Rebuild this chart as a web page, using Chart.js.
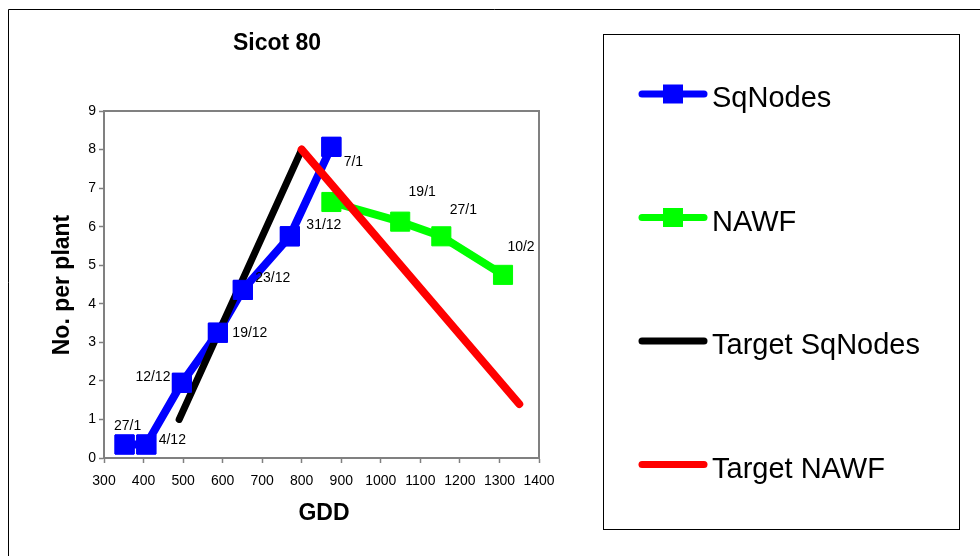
<!DOCTYPE html>
<html><head><meta charset="utf-8">
<script src="https://cdn.jsdelivr.net/npm/chart.js@4"></script>
<style>html,body{margin:0;padding:0;background:#fff}#wrap{width:980px;height:556px;position:relative}canvas{display:block}</style>
</head><body><div id="wrap"><canvas id="c" width="980" height="556"></canvas></div>
<script>
// ---------- data ----------
const chartTitle = 'Sicot 80';
const xTitle = 'GDD';
const yTitle = 'No. per plant';
const seriesNames = ['SqNodes', 'NAWF', 'Target SqNodes', 'Target NAWF'];
const sqGDD = [352, 407, 497, 588, 651, 770, 875];
const sqNodes = [0.35, 0.35, 1.95, 3.25, 4.36, 5.75, 8.07];
const sqDates = ['27/1', '4/12', '12/12', '19/12', '23/12', '31/12', '7/1'];
const nawfGDD = [875, 1049, 1153, 1309];
const nawfVals = [6.64, 6.13, 5.75, 4.75];
const nawfDates = ['', '19/1', '27/1', '10/2'];
const targetSqGDD = [490, 800];
const targetSqVals = [1, 8];
const targetNawfGDD = [800, 1350];
const targetNawfVals = [8, 1.4];
const xTicks = [300, 400, 500, 600, 700, 800, 900, 1000, 1100, 1200, 1300, 1400];
const yTicks = [0, 1, 2, 3, 4, 5, 6, 7, 8, 9];

// ---------- helpers ----------
const FONT = '"Liberation Sans", Arial, Helvetica, sans-serif';
const pts = (xs, ys) => xs.map((x, i) => ({x: x, y: ys[i]}));
const colors = ['#0000FF', '#00FF00', '#000000', '#FF0000'];

// label offsets (pixels) relative to the point: [dx, dy]
const sqLabelOffsets = [[3, -18], [26, -4], [-29, -6], [32, 0], [30, -12], [34, -11], [22, 15]];
const nawfLabelOffsets = [[0, 0], [22, -30], [22, -26], [18, -28]];

const decor = {
  id: 'decor',
  beforeDraw(chart) {
    const ctx = chart.ctx;
    ctx.save();
    ctx.fillStyle = '#fff';
    ctx.fillRect(0, 0, chart.width, chart.height);
    ctx.strokeStyle = '#000';
    ctx.lineWidth = 1;
    ctx.beginPath();
    ctx.moveTo(8.5, chart.height);
    ctx.lineTo(8.5, 9.5);
    ctx.lineTo(chart.width, 9.5);
    ctx.stroke();
    ctx.restore();
  },
  beforeDatasetsDraw(chart) {
    const ctx = chart.ctx, a = chart.chartArea;
    ctx.save();
    ctx.strokeStyle = '#808080';
    ctx.lineWidth = 2;
    ctx.strokeRect(a.left, a.top, a.right - a.left, a.bottom - a.top);
    ctx.restore();
  },
  afterDatasetsDraw(chart) {
    const ctx = chart.ctx;
    // SqNodes markers sit on top of the target lines
    chart.getDatasetMeta(0).data.forEach(p => p.draw(ctx, chart.chartArea));
    ctx.save();
    ctx.fillStyle = '#000';
    ctx.font = '14px ' + FONT;
    ctx.textAlign = 'center';
    ctx.textBaseline = 'middle';
    const drawLabels = (di, texts, offs) => {
      chart.getDatasetMeta(di).data.forEach((p, i) => {
        if (!texts[i]) return;
        ctx.fillText(texts[i], p.x + offs[i][0], p.y + offs[i][1]);
      });
    };
    drawLabels(0, sqDates, sqLabelOffsets);
    drawLabels(1, nawfDates, nawfLabelOffsets);
    ctx.restore();
  },
  afterDraw(chart) {
    const ctx = chart.ctx;
    ctx.save();
    ctx.fillStyle = '#000';
    // chart title
    ctx.font = 'bold 23px ' + FONT;
    ctx.textAlign = 'center';
    ctx.textBaseline = 'alphabetic';
    ctx.fillText(chartTitle, 277, 50);
    // x title
    ctx.fillText(xTitle, 324, 520);
    // y title
    ctx.save();
    ctx.translate(69, 285);
    ctx.rotate(-Math.PI / 2);
    ctx.fillText(yTitle, 0, 0);
    ctx.restore();
    // legend box
    ctx.strokeStyle = '#000';
    ctx.lineWidth = 1;
    ctx.strokeRect(603.5, 34.5, 356, 495);
    // legend entries
    chart.data.datasets.forEach((ds, i) => {
      const y = 94 + i * 123.5;
      ctx.strokeStyle = ds.borderColor;
      ctx.lineWidth = 7;
      ctx.lineCap = 'round';
      ctx.beginPath();
      ctx.moveTo(642, y);
      ctx.lineTo(704, y);
      ctx.stroke();
      if (ds.pointRadius > 0) {
        ctx.fillStyle = ds.pointBackgroundColor;
        ctx.fillRect(663, y - 9.5, 20, 19);
      }
      ctx.fillStyle = '#000';
      ctx.font = '29px ' + FONT;
      ctx.textAlign = 'left';
      ctx.fillText(ds.label, 712, y + 13);
    });
    ctx.restore();
  }
};

const mk = (label, data, color, width, withPoints, order) => ({
  label: label,
  data: data,
  borderColor: color,
  backgroundColor: color,
  borderWidth: width,
  borderCapStyle: 'round',
  borderJoinStyle: 'round',
  showLine: true,
  pointStyle: 'rect',
  pointRadius: withPoints ? 13.5 : 0,
  pointHoverRadius: withPoints ? 13.5 : 0,
  pointBackgroundColor: color,
  pointBorderColor: color,
  pointBorderWidth: 1,
  order: order
});

const fitX = s => { s.height = 30; s.paddingLeft = 0; s.paddingRight = 0; };
const fitY = s => { s.width = 30; s.paddingTop = 0; s.paddingBottom = 0; };

new Chart(document.getElementById('c'), {
  type: 'scatter',
  data: {
    datasets: [
      mk(seriesNames[0], pts(sqGDD, sqNodes), colors[0], 8, true, 4),
      mk(seriesNames[1], pts(nawfGDD, nawfVals), colors[1], 8, true, 3),
      mk(seriesNames[2], pts(targetSqGDD, targetSqVals), colors[2], 7, false, 2),
      mk(seriesNames[3], pts(targetNawfGDD, targetNawfVals), colors[3], 8, false, 1)
    ]
  },
  options: {
    responsive: false,
    devicePixelRatio: 1,
    animation: false,
    layout: {padding: {left: 74, top: 111, right: 441, bottom: 68}},
    plugins: {legend: {display: false}, title: {display: false}, tooltip: {enabled: false}},
    scales: {
      x: {
        type: 'linear',
        min: xTicks[0], max: xTicks[xTicks.length - 1],
        afterBuildTicks: s => { s.ticks = xTicks.map(v => ({value: v})); },
        afterFit: fitX,
        ticks: {color: '#000', font: {family: FONT, size: 14}, padding: 10, maxRotation: 0, autoSkip: false,
                callback: v => String(v)},
        grid: {drawOnChartArea: false, drawTicks: true, tickLength: 5, color: '#808080', tickWidth: 1.5},
        border: {color: '#808080', width: 2}
      },
      y: {
        type: 'linear',
        min: yTicks[0], max: yTicks[yTicks.length - 1],
        afterBuildTicks: s => { s.ticks = yTicks.map(v => ({value: v})); },
        afterFit: fitY,
        ticks: {color: '#000', font: {family: FONT, size: 14}, padding: 3, autoSkip: false,
                callback: v => String(v)},
        grid: {drawOnChartArea: false, drawTicks: true, tickLength: 5, color: '#808080', tickWidth: 1.5},
        border: {color: '#808080', width: 2}
      }
    }
  },
  plugins: [decor]
});
</script>
</body></html>
